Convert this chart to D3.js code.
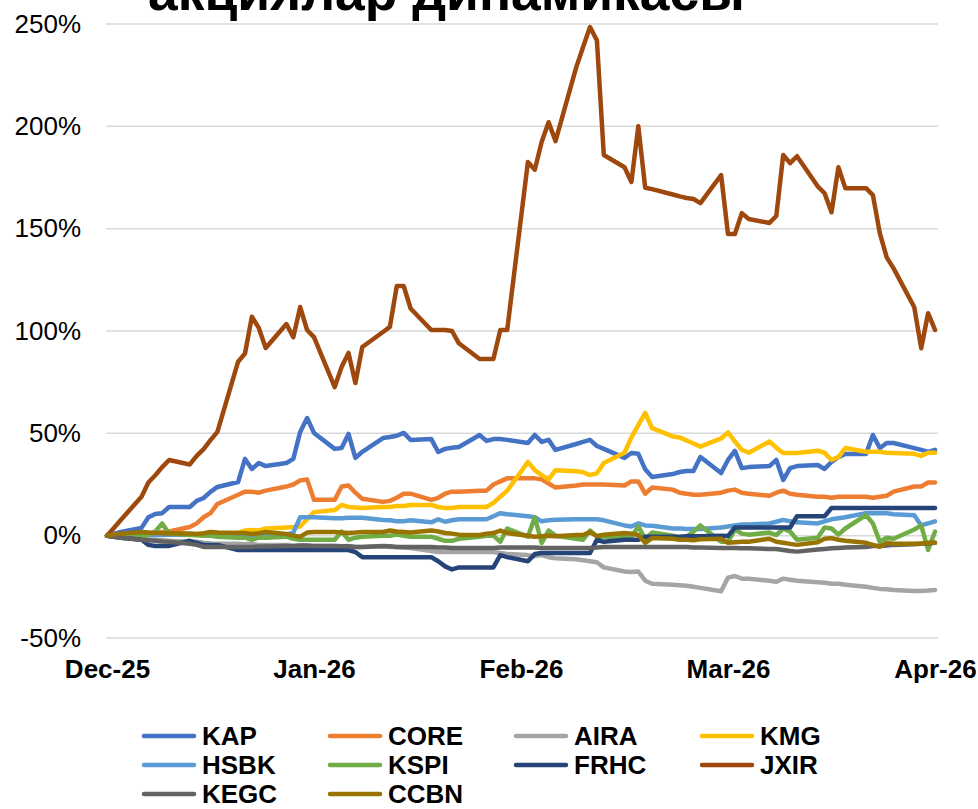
<!DOCTYPE html>
<html>
<head>
<meta charset="utf-8">
<script src="https://cdn.jsdelivr.net/npm/d3@7"></script>
<style>
  body { margin: 0; background: #fff; }
  svg { display: block; font-family: "Liberation Sans", Arial, sans-serif; }
</style>
</head>
<body>
<div id="graphic-area"></div>
<script>
// trading days on the chart
const dates = [
  "2025-12-03","2025-12-04","2025-12-05",
  "2025-12-08","2025-12-09","2025-12-10","2025-12-11","2025-12-12",
  "2025-12-15","2025-12-16","2025-12-17","2025-12-18","2025-12-19",
  "2025-12-22","2025-12-23","2025-12-24","2025-12-25","2025-12-26",
  "2025-12-29","2025-12-30","2025-12-31","2026-01-01","2026-01-02",
  "2026-01-05","2026-01-06","2026-01-07","2026-01-08","2026-01-09",
  "2026-01-12","2026-01-13","2026-01-14","2026-01-15","2026-01-16",
  "2026-01-19","2026-01-20","2026-01-21","2026-01-22","2026-01-23",
  "2026-01-26","2026-01-27","2026-01-28","2026-01-29","2026-01-30",
  "2026-02-02","2026-02-03","2026-02-04","2026-02-05","2026-02-06",
  "2026-02-09","2026-02-10","2026-02-11","2026-02-12","2026-02-13",
  "2026-02-16","2026-02-17","2026-02-18","2026-02-19","2026-02-20",
  "2026-02-23","2026-02-24","2026-02-25","2026-02-26","2026-02-27",
  "2026-03-02","2026-03-03","2026-03-04","2026-03-05","2026-03-06",
  "2026-03-09","2026-03-10","2026-03-11","2026-03-12","2026-03-13",
  "2026-03-16","2026-03-17","2026-03-18","2026-03-19","2026-03-20",
  "2026-03-23","2026-03-24","2026-03-25","2026-03-26","2026-03-27",
  "2026-03-30","2026-03-31","2026-04-01","2026-04-02"
];

// change since start, %
const KAP = [0,0.8,1.8, 3.8,9,10.6,11,14, 14,17,18.4,21.4,23.8, 26.2,37.5,32.6,35.5,34,
  35.5,37.5,50.7,57.5,50.2, 42.4,42.8,49.7,38,41, 47.7,48.2,48.8,50.2,46.8, 47.2,40.9,42.4,43,43.3,
  49.2,46.3,47.2,47.2,46.8, 45.3,49.2,45.8,46.8,41.9, 44.8,45.8,46.8,43.8,42.4, 38,40.4,40,32.4,28.7,
  30.1,31.1,31.6,31.6,38.4, 30.6,37,41.4,33,33.5, 34,37,27.2,33,34, 34.5,32.6,36,38.4,39.9,
  39.9,49.2,42.8,45.3,45.3, 42.8,41.9,40.9,41.9];
const CORE = [0,0.3,0.5, 1,1.2,1.5,1.8,2, 4.2,6,9,11,15.5, 20,21.5,21.5,21,22,
  24,25,27,27.5,17.5, 17.5,24,24.5,21,18, 16.5,17,18.5,20.5,20.5, 17.5,18.5,20.5,21.5,21.5,
  22,22,25,26.5,28, 28,28,27.5,25.5,23.5, 24.5,25,25,25,25, 24.5,26.5,26.5,20.5,23.5,
  22.5,21,20.5,20,20, 21,22,22.5,21,20.5, 19.5,21,22,20.5,20, 19,19,18.5,19,19,
  19,18.5,19,19.5,21.5, 24,24,26,26];
const AIRA = [0,-0.5,-0.8, -1.5,-1.8,-2,-2.2,-2.5, -3,-3,-3.5,-3.8,-4, -4,-4.2,-4,-4.5,-4.5,
  -4.5,-5,-4.8,-5,-5, -5,-5.2,-5,-5.5,-5.5, -5.2,-5.5,-5.5,-5.8,-6, -7.5,-8,-8,-8,-8,
  -8,-8,-8,-8.5,-9, -9.5,-10,-9.5,-10.5,-11, -11.5,-12,-12.5,-13,-15.5, -17.5,-17.8,-17.5,-22,-23.5,
  -24,-24.2,-24.5,-25,-25.5, -27.2,-20.5,-19.7,-21,-21, -22,-22.5,-21,-21.5,-22, -22.8,-23,-23.5,-23.5,-24,
  -25,-25.5,-26,-26.2,-26.5, -27,-27,-26.8,-26.5];
const KMG = [0,0,0, 0.3,0.5,0.5,0.5,0.5, 0.3,0.3,0,0,0.3, 1.5,2.5,2.8,2.5,3.5,
  4,4.2,4.5,8,11.5, 12.5,15,14,13.8,13.5, 14,14,14.5,14.5,15, 15,14,13.5,13.5,14,
  14,14,16,19,22, 36,32,29.6,27.5,32, 31.5,31,29.6,30.5,35.5, 40.5,48,54,60,52.5,
  48.5,48,46.5,45,43.5, 47.5,50.5,46,42,40.5, 46,43,40.4,40.4,40.4, 41.5,40.5,37,38.4,42.8,
  41,41,41,40.5,40.4, 40,39,40.5,40.5];
const HSBK = [0,0.3,0.5, 0.5,0.5,0.3,0.3,0.5, 0.5,0.3,0.5,0.5,0.5, 0.5,0.3,0.5,0.5,0.3,
  0.5,1.5,9,9,9, 8.5,8.5,8.7,8.7,8.7, 7.7,7.5,7,7,7.5, 6.5,8,6.8,7.5,8,
  8,8,9.5,11,10.5, 9.5,9,7,7.5,7.8, 8,8,8,8,7.5, 5,4.5,6,5,4.8,
  3.5,3.5,3.3,3.2,3.2, 4,4.5,5,5.5,5.5, 6,6.8,7.7,7,6.5, 6,7,8,8.5,9,
  11,11,11,11,10.5, 10,5,6,7];
const KSPI = [0,0,-0.3, -0.5,0.5,2,6,1, 0.5,0.3,0,0,-0.5, -1,-1,-2,-1,-1,
  -0.5,-1.5,-2,-2,-2, -2,2,-2,-1,-0.5, 0,0,0.5,0,-0.5, -0.5,-1.5,-2.5,-2.5,-1.5,
  -0.5,0,0,-3,3.5, -0.5,9,-3.5,2.5,0, -1.5,-2,2.5,-0.5,-0.5, -0.5,-0.5,4.5,-1.5,1.5,
  0,-1,-0.5,2,5, -3,-3,3,1,0.5, 1.5,0.3,3.5,2,-2, -1,4,3.5,0.5,3.5,
  10,6,-3,-1,-1.5, 3,5,-7,2];
const FRHC = [0,-0.5,-1, -2,-4.5,-5,-5,-5, -2.5,-3.5,-4.5,-4.5,-4.5, -7,-7,-7,-7,-7,
  -7,-7,-7,-7,-7, -7,-7,-7,-8,-10.5, -10.5,-10.5,-10.5,-10.5,-10.5, -10.5,-12.5,-15,-16.5,-15.5,
  -15.5,-15.5,-15.5,-9.5,-10.5, -12.5,-9,-8.5,-8.5,-8.5, -8.5,-8.5,-8.5,-2,-3, -2,-2,-2,-0.5,-0.5,
  -0.5,-0.5,-0.3,-0.3,-0.3, 0,-0.2,4,4,4, 4,4,4,4,9.5, 9.5,9.5,13.5,13.5,13.5,
  13.5,13.5,13.5,13.5,13.5, 13.5,13.5,13.5,13.5];
const JXIR = [0,3.8,7.7, 19,26,29.5,33.5,37, 34.8,39,42.3,46.7,50.7, 85,89,107,101.5,91.7,
  103.4,97,111.7,100.5,97, 72.6,82.4,89.3,74.6,92.2, 99.5,102,122,122,111, 100.5,100.5,100.5,100,94,
  86.3,86.3,86.3,100.5,100.5, 182.6,178.8,192.5,202,192.8, 228.8,238.8,248.5,242,186, 180,172.8,200,170,169.3,
  166.7,165.8,165,164.5,162.5, 176.2,147.4,147.4,157.6,154.7, 152.8,156.2,186,182,185.4, 170.7,167.3,158,180,169.8,
  169.8,166.4,147.8,136,130.6, 111.6,91.6,108.7,100.5];
const KEGC = [0,-0.5,-1, -2,-2.2,-2.5,-2.8,-3, -4,-4.5,-5.5,-5.5,-5.5, -5.5,-5.5,-5.5,-5.3,-5.3,
  -5,-5,-4.8,-4.8,-5, -5,-5.2,-5.2,-5.5,-5.5, -5,-5.2,-5.5,-5.5,-5.5, -5.5,-5.8,-5.8,-6,-6,
  -6,-6,-6,-5.8,-5.8, -5.8,-5.8,-6,-6,-6, -6,-6,-6,-5.8,-5.5, -5.5,-5.5,-5.5,-5.5,-5.5,
  -5.5,-5.5,-5.5,-5.8,-5.8, -6,-6,-6,-6.2,-6.2, -6.5,-6.5,-7,-7.5,-7.8, -6.8,-6.5,-6.2,-6,-5.8,
  -5.5,-5,-5,-4.8,-4.5, -4.2,-4,-3.8,-3.5];
const CCBN = [0,0.5,1, 1.8,1.5,1.3,1.2,1.2, 1,0.8,1.2,1.8,1.5, 1.3,1.3,0.8,1.2,1.8,
  0.8,0,-0.5,1.5,1.8, 1.8,1.5,1.3,1.5,1.8, 1.8,2.5,2,1.8,1.5, 2.5,2,1.3,1,0.5,
  0.3,1,1.3,2.5,1.3, 0,-0.5,-0.3,0,-0.3, 0.3,0.3,1.8,-0.2,0.5, 1.3,1,0.3,-3.5,-1.2,
  -1.5,-2,-2,-2.2,-1.8, -1.5,-3.5,-3.2,-3,-3, -1.5,-3,-3.5,-4,-4.5, -3.2,-1.5,-1.2,-2,-2.5,
  -3.5,-4.5,-5.5,-3.5,-4, -4,-3.8,-3.5,-3.5];

const seriesNames = ["KAP","CORE","AIRA","KMG","HSBK","KSPI","FRHC","JXIR","KEGC","CCBN"];
const seriesValues = [KAP, CORE, AIRA, KMG, HSBK, KSPI, FRHC, JXIR, KEGC, CCBN];
const colors = ["#4472C4","#ED7D31","#A5A5A5","#FFC000","#5B9BD5","#70AD47","#264478","#9E480E","#636363","#997300"];

const yTicks = [-50, 0, 50, 100, 150, 200, 250];
const xTickDates = ["2025-12-03","2026-01-02","2026-02-01","2026-03-03","2026-04-02"];
const titleText = "акциялар динамикасы";

const w = 978;
const h = 809;
const plotLeft = 107, plotRight = 935, plotTop = 24, plotBottom = 638;
const fontSize = 26;

const parse = d3.timeParse("%Y-%m-%d");
const days = dates.map(parse);

const xScale = d3.scaleTime()
                 .domain([days[0], days[days.length - 1]])
                 .range([plotLeft, plotRight]);

const yScale = d3.scaleLinear()
                 .domain([-50, 250])
                 .range([plotBottom, plotTop]);

const svg = d3.select("#graphic-area")
              .append("svg")
              .attr("width", w)
              .attr("height", h);

// gridlines
svg.append("g")
   .selectAll("line")
   .data(yTicks)
   .enter()
   .append("line")
   .attr("x1", plotLeft - 1)
   .attr("x2", plotRight + 3)
   .attr("y1", d => yScale(d))
   .attr("y2", d => yScale(d))
   .attr("stroke", "#d9d9d9")
   .attr("stroke-width", 1.5);

const yAxis = d3.axisLeft(yScale)
                .tickValues(yTicks)
                .tickFormat(d => d + "%")
                .tickSize(0)
                .tickPadding(26);

svg.append("g")
   .attr("transform", "translate(" + plotLeft + ",0)")
   .call(yAxis)
   .call(g => g.select(".domain").remove())
   .selectAll("text")
   .attr("font-size", fontSize)
   .attr("font-family", "Liberation Sans, Arial, sans-serif")
   .attr("fill", "#000");

const xAxis = d3.axisBottom(xScale)
                .tickValues(xTickDates.map(parse))
                .tickFormat(d3.timeFormat("%b-%y"))
                .tickSize(0)
                .tickPadding(10);

svg.append("g")
   .attr("transform", "translate(0," + (plotBottom + 12) + ")")
   .call(xAxis)
   .call(g => g.select(".domain").remove())
   .selectAll("text")
   .attr("font-size", fontSize)
   .attr("font-weight", "bold")
   .attr("font-family", "Liberation Sans, Arial, sans-serif")
   .attr("fill", "#000");

const line = d3.line()
               .x((d, i) => xScale(days[i]))
               .y(d => yScale(d));

svg.append("g")
   .selectAll("path")
   .data(seriesValues)
   .enter()
   .append("path")
   .attr("d", d => line(d))
   .attr("fill", "none")
   .attr("stroke", (d, i) => colors[i])
   .attr("stroke-width", 4.5)
   .attr("stroke-linejoin", "round")
   .attr("stroke-linecap", "round");

// legend, 4 per row
const legend = svg.append("g")
                  .selectAll("g")
                  .data(seriesNames)
                  .enter()
                  .append("g")
                  .attr("transform", (d, i) => "translate(" + (144 + (i % 4) * 186) + "," + (736 + Math.floor(i / 4) * 29) + ")");

legend.append("line")
      .attr("x1", 0)
      .attr("x2", 50)
      .attr("stroke", (d, i) => colors[i])
      .attr("stroke-width", 4.5)
      .attr("stroke-linecap", "round");

legend.append("text")
      .attr("x", 58)
      .attr("dy", "0.35em")
      .attr("font-size", fontSize)
      .attr("font-weight", "bold")
      .text(d => d);

// title, only its bottom edge shows
const title = svg.append("text")
                 .attr("x", 148)
                 .attr("y", 10)
                 .attr("font-size", 40)
                 .attr("font-weight", "bold")
                 .text(titleText);
const tl = title.node().getComputedTextLength();
title.attr("font-size", 40 * 597 / tl);
</script>
</body>
</html>
